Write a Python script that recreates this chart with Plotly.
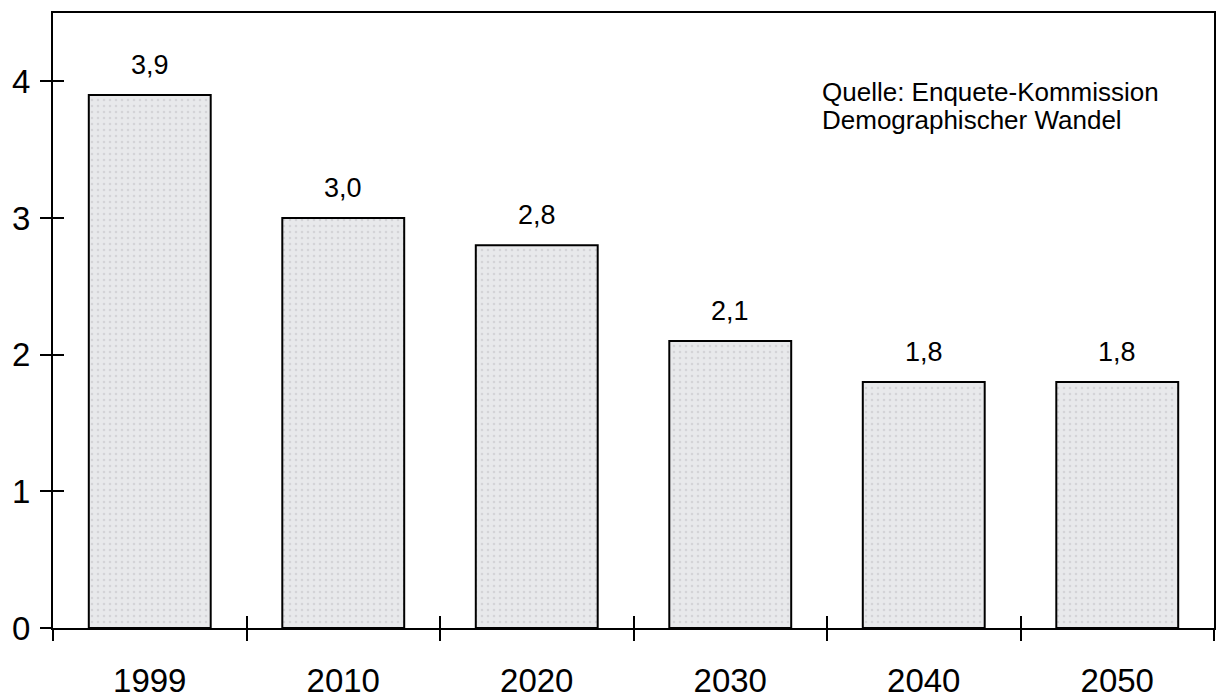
import plotly.graph_objects as go

years = ["1999", "2010", "2020", "2030", "2040", "2050"]
values = [3.9, 3.0, 2.8, 2.1, 1.8, 1.8]
value_labels = ["3,9", "3,0", "2,8", "2,1", "1,8", "1,8"]
y_ticks = [0, 1, 2, 3, 4]
source_lines = ["Quelle: Enquete-Kommission", "Demographischer Wandel"]

FONT = "Liberation Sans, Arial, Helvetica, sans-serif"

n = len(years)
pos = list(range(n))
boundaries = [i - 0.5 for i in range(n + 1)]
xr = [-0.5, n - 0.5]
yr = [0, 4.5]

fig = go.Figure()
fig.add_trace(go.Bar(
    x=pos, y=values, width=0.63,
    marker=dict(color="#e6e7ea", line=dict(color="black", width=2),
                pattern=dict(shape=".", fgcolor="#bfc0c3", bgcolor="#e8e9eb", size=6, solidity=0.15)),
    hoverinfo="skip", showlegend=False,
))
# helper traces so the tick-only overlay axes get drawn
fig.add_trace(go.Scatter(x=[None], y=[None], xaxis="x2", yaxis="y2", showlegend=False, hoverinfo="skip"))
fig.add_trace(go.Scatter(x=[None], y=[None], xaxis="x3", yaxis="y2", showlegend=False, hoverinfo="skip"))

for p, v, lab in zip(pos, values, value_labels):
    fig.add_annotation(x=p, y=v, text=lab, showarrow=False, yanchor="bottom",
                       yshift=13, font=dict(size=27, color="black", family=FONT))

for i, line in enumerate(source_lines):
    fig.add_annotation(xref="x domain", yref="y domain", x=0.661, y=0.8715,
                       yshift=-28 * i, text=line, showarrow=False,
                       xanchor="left", yanchor="middle", align="left",
                       font=dict(size=26, color="black", family=FONT))

tick_common = dict(tickwidth=2, tickcolor="black", showticklabels=False,
                   showgrid=False, zeroline=False, showline=False, automargin=False)

fig.update_layout(
    width=1216, height=698,
    margin=dict(l=53, r=2, t=13, b=70),
    paper_bgcolor="white", plot_bgcolor="white",
    font=dict(family=FONT, color="black"),
    hovermode=False,
    xaxis=dict(range=xr, tickvals=pos, ticktext=years, ticks="", tickangle=0,
               showline=True, linecolor="black", linewidth=2, mirror=True,
               showgrid=False, zeroline=False, automargin=False,
               tickfont=dict(size=33), ticklabelstandoff=22),
    yaxis=dict(range=yr, tickvals=y_ticks, ticks="outside", ticklen=11,
               tickwidth=2, tickcolor="black", showline=True, linecolor="black",
               linewidth=2, mirror=True, showgrid=False, zeroline=False,
               automargin=False, tickfont=dict(size=33), ticklabelstandoff=3),
    xaxis2=dict(overlaying="x", anchor="y2", side="bottom", range=xr,
                tickvals=boundaries, ticks="outside", ticklen=12, **tick_common),
    xaxis3=dict(overlaying="x", anchor="y2", side="bottom", range=xr,
                tickvals=boundaries, ticks="inside", ticklen=12, **tick_common),
    yaxis2=dict(overlaying="y", anchor="x2", side="left", range=yr,
                tickvals=y_ticks, ticks="inside", ticklen=11, **tick_common),
)

fig.write_html(
    "out.html",
    config={"displayModeBar": False, "staticPlot": True},
    post_script="document.documentElement.style.overflow='hidden';"
                "document.body.style.margin='0px';document.body.style.overflow='hidden';",
)
